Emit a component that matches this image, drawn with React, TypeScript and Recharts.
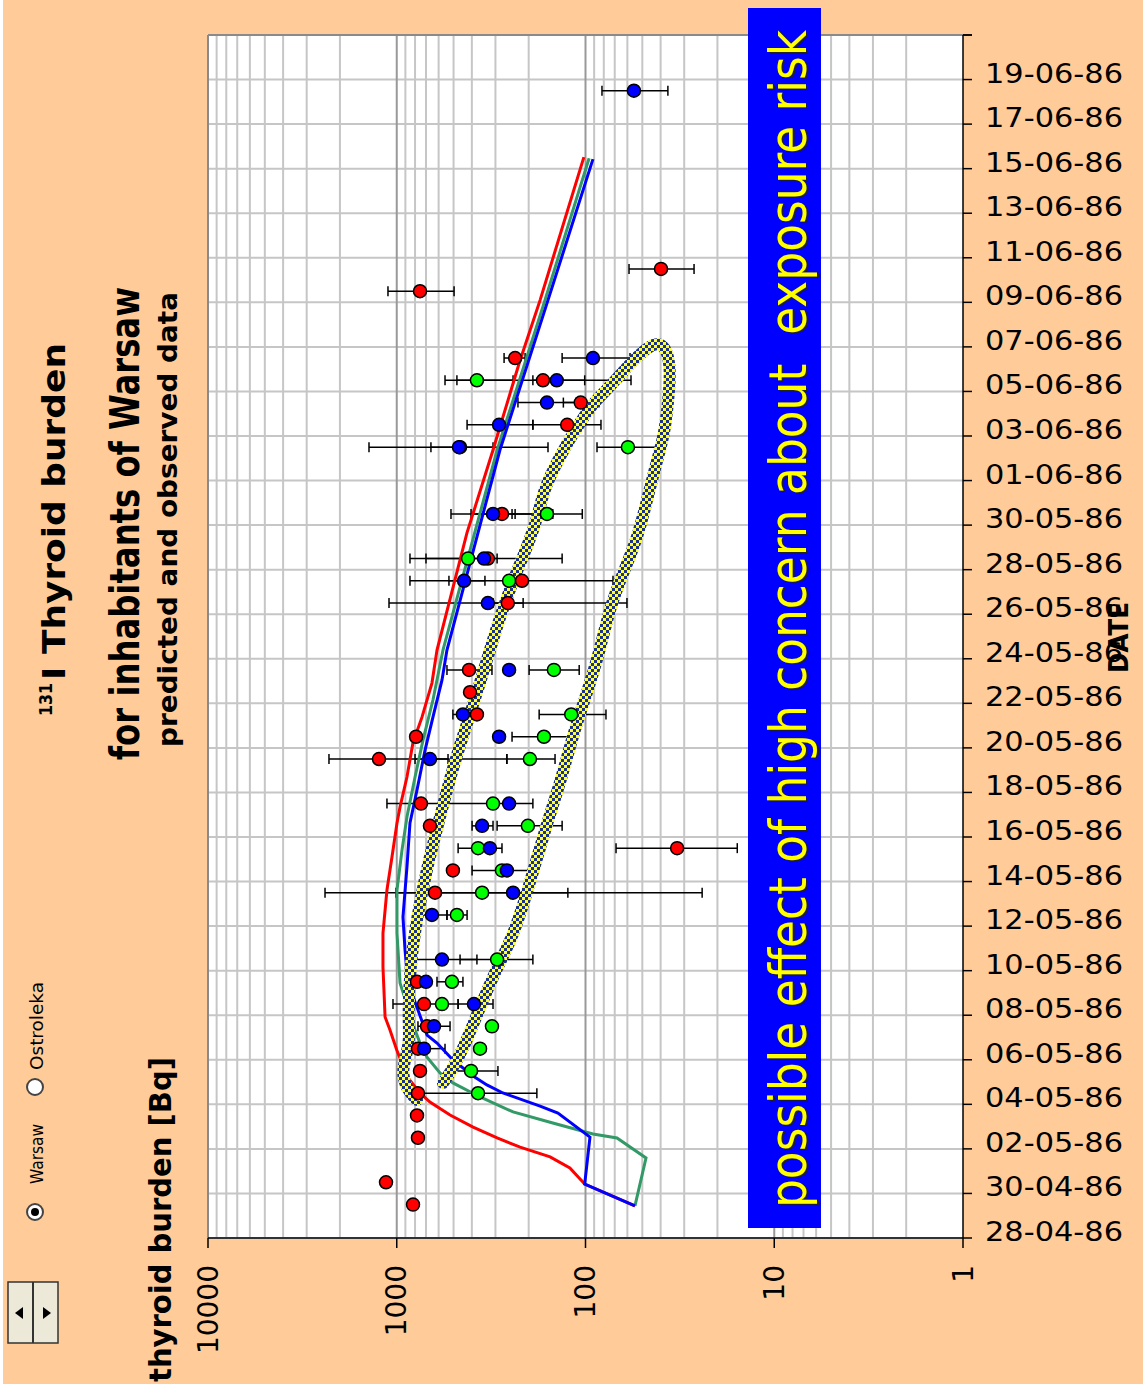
import React from "react";
import { CartesianGrid, ErrorBar, ReferenceLine, Scatter, ScatterChart, XAxis, YAxis } from "recharts";

const W = 1143;
const H = 1388;
const PEACH = "#FFCC99";
const FONT = "DejaVu Sans";

// observations (Bq), measured at midday; low/high = ends of the error bar
const redDates = ["29-04-86", "30-04-86", "02-05-86", "03-05-86", "04-05-86", "05-05-86", "06-05-86", "07-05-86", "08-05-86", "09-05-86", "13-05-86", "14-05-86", "15-05-86", "16-05-86", "17-05-86", "19-05-86", "20-05-86", "21-05-86", "22-05-86", "23-05-86", "26-05-86", "27-05-86", "28-05-86", "30-05-86", "02-06-86", "03-06-86", "04-06-86", "05-06-86", "06-06-86", "09-06-86", "10-06-86"];
const redValues = [820, 1140, 772, 781, 772, 753, 772, 691, 717, 781, 627, 504, 32.7, 667, 744, 1242, 790, 376, 409, 414, 258, 217, 329, 277, 462, 125, 106, 168, 236, 753, 39.8];
const redLow = [null, null, null, null, null, null, null, null, 473, null, null, null, 15.7, null, 190, 535, null, null, null, 313, 214, null, null, 149, 309, 82.8, 84.8, 57.4, 209, 497, 26.6];
const redHigh = [null, null, null, null, null, null, null, null, 1047, null, null, null, 68.9, null, 1127, 2286, null, null, null, 542, 309, null, null, 516, 659, 190, 131, 480, 270, 1113, 58.8];

const greenDates = ["04-05-86", "05-05-86", "06-05-86", "07-05-86", "08-05-86", "09-05-86", "10-05-86", "12-05-86", "13-05-86", "14-05-86", "15-05-86", "16-05-86", "17-05-86", "19-05-86", "20-05-86", "21-05-86", "23-05-86", "27-05-86", "28-05-86", "30-05-86", "02-06-86", "05-06-86"];
const greenValues = [371, 404, 362, 313, 576, 510, 294, 480, 353, 277, 371, 202, 309, 197, 166, 119, 147, 254, 419, 160, 59.6, 376];
const greenLow = [181, 291, null, null, null, 446, 190, 424, 124, 197, 277, 133, null, 145, 118, 77.9, 108, 71.5, 294, 104, 41.3, 242];
const greenHigh = [772, 535, null, null, null, 612, 462, 542, 1009, 399, 473, 294, null, 261, 245, 176, 199, 851, 700, 245, 86.9, 555];

const blueDates = ["06-05-86", "07-05-86", "08-05-86", "09-05-86", "10-05-86", "12-05-86", "13-05-86", "14-05-86", "15-05-86", "16-05-86", "17-05-86", "19-05-86", "20-05-86", "21-05-86", "23-05-86", "26-05-86", "27-05-86", "28-05-86", "30-05-86", "02-06-86", "03-06-86", "04-06-86", "05-06-86", "06-06-86", "18-06-86"];
const blueValues = [717, 635, 390, 700, 576, 651, 242, 261, 321, 353, 254, 667, 287, 446, 254, 329, 440, 345, 309, 468, 287, 160, 142, 91.3, 55.4];
const blueLow = [555, 522, 309, null, 376, 542, 24.1, null, null, 309, null, 261, null, 385, null, 60.3, 341, 133, 236, 158, 190, 112, 101, 58.1, 36.6];
const blueHigh = [781, 772, 473, null, 893, 811, 2399, null, null, 399, null, 800, null, 504, null, 1099, 529, 851, 404, 1403, 424, 228, 190, 133, 81.8];

// predicted curves: days since 28-04-86, Bq
const redCurveDays = [1.44, 2.42, 3.14, 3.64, 4.08, 4.49, 4.98, 5.52, 6.1, 6.51, 7.18, 7.85, 8.44, 9.34, 9.92, 12.16, 13.69, 15.62, 17.1, 18.63, 19.34, 20.69, 22.22, 23.38, 24.91, 26.39, 31.64, 35.37, 39.3, 42.1, 48.52];
const redCurveValues = [54.7, 101, 121, 154, 222, 294, 394, 522, 667, 753, 871, 938, 1000, 1086, 1153, 1183, 1183, 1127, 1060, 997, 961, 883, 821, 735, 651, 612, 425, 309, 224, 174, 102];
const greenCurveDays = [1.44, 3.59, 4.49, 4.67, 5.16, 5.66, 6.33, 6.96, 7.41, 8.12, 8.75, 9.34, 11.45, 13.69, 15.62, 17.41, 18.9, 20.69, 22.35, 24.15, 26.39, 35.37, 42.1, 48.47];
const greenCurveValues = [54.7, 47.8, 68.1, 91.3, 149, 242, 362, 504, 590, 691, 753, 800, 961, 997, 997, 938, 883, 800, 726, 643, 569, 294, 164, 95.7];
const blueCurveDays = [1.44, 2.42, 4.53, 5.61, 5.92, 6.51, 6.87, 7.27, 7.99, 8.75, 9.11, 10.23, 11.45, 12.93, 14.41, 16.65, 18.63, 20.11, 21.9, 23.38, 25.04, 26.39, 35.37, 42.1, 48.43];
const blueCurveValues = [54.7, 101, 94.7, 140, 174, 274, 333, 394, 504, 612, 691, 772, 871, 904, 927, 883, 851, 781, 708, 643, 576, 542, 284, 158, 91.3];

// hand-drawn "high concern" loop
const loopDays = [6.19, 6.64, 7.41, 7.99, 8.89, 9.92, 12.16, 14.41, 16.65, 18.9, 21.14, 23.11, 24.91, 26.39, 27.87, 29.53, 31.01, 32.23, 33.44, 34.47, 35.68, 36.58, 37.48, 38.2, 39.27, 40.08, 40.17, 39.86, 39.09, 38.38, 36.13, 34.92, 33.12, 31.33, 29.85, 28.32, 26.39, 24.46, 22.67, 20.42, 18.63, 15.93, 13.51, 12.16, 10.37, 8.44, 7.41, 6.96];
const loopValues = [781, 883, 938, 904, 851, 872, 851, 781, 691, 590, 504, 424, 362, 321, 284, 242, 204, 181, 168, 149, 125, 107, 91.3, 74.2, 58.1, 45.5, 40.3, 37, 35.7, 35.7, 37.9, 41.8, 47.2, 53.4, 63.3, 74.2, 83.8, 98.2, 116, 136, 160, 197, 242, 294, 362, 446, 522, 569];

const valueTicks = [1, 10, 100, 1000, 10000];
const dayTicks = Array.from({ length: 28 }, (_, i) => i * 2);
const minorGrid = [1, 10, 100, 1000].flatMap((dec) => [2, 3, 4, 5, 6, 7, 8, 9].map((k) => k * dec));

const START = Date.UTC(1986, 3, 28);
const DAY = 86400000;
const pad = (n: number) => String(n).padStart(2, "0");

function dayOf(label: string) {
  const [dd, mm, yy] = label.split("-").map(Number);
  return (Date.UTC(1900 + yy, mm - 1, dd) - START) / DAY + 0.5;
}

function dateLabel(d: number) {
  const t = new Date(START + d * DAY);
  return `${pad(t.getUTCDate())}-${pad(t.getUTCMonth() + 1)}-${pad(t.getUTCFullYear() % 100)}`;
}

function toPoints(dates: string[], values: number[], low: (number | null)[], high: (number | null)[]) {
  return dates.map((t, i) => {
    const lo = low[i];
    const hi = high[i];
    return {
      d: dayOf(t),
      v: values[i],
      err: lo == null || hi == null ? undefined : [values[i] - lo, hi - values[i]],
    };
  });
}

const toCurve = (days: number[], values: number[]) => days.map((d, i) => ({ d, v: values[i] }));

const redPoints = toPoints(redDates, redValues, redLow, redHigh);
const greenPoints = toPoints(greenDates, greenValues, greenLow, greenHigh);
const bluePoints = toPoints(blueDates, blueValues, blueLow, blueHigh);

const noShape = () => <g />;
const dot = (fill: string) => (p: any) => (
  <circle cx={p.cx} cy={p.cy} r={6.5} fill={fill} stroke="#000" strokeWidth={1.5} />
);

function ValueTick({ x, y, payload }: any) {
  const ty = y + 15;
  return (
    <text x={x} y={ty} transform={`rotate(-90, ${x}, ${ty})`} textAnchor="end" dominantBaseline="central" fontFamily={FONT} fontSize={28} fill="#000">
      {payload.value}
    </text>
  );
}

function DateTick({ x, y, payload }: any) {
  if (payload.value >= 54) return <g />;
  return (
    <text x={x} y={y - 6} dominantBaseline="central" fontFamily={FONT} fontSize={26} textLength={138} lengthAdjust="spacingAndGlyphs" fill="#000">
      {dateLabel(payload.value)}
    </text>
  );
}

// rotated (bottom-to-top) text for the overlay; sy stretches the glyph height
function VText({ x, y, size, len, bold, fill = "#000", sy = 1, children }: any) {
  return (
    <text
      x={0}
      y={0}
      transform={`translate(${x}, ${y}) rotate(-90) scale(1, ${sy})`}
      fontFamily={FONT}
      fontWeight={bold ? "bold" : "normal"}
      fontSize={size}
      fill={fill}
      textLength={len}
      lengthAdjust="spacingAndGlyphs"
      style={{ whiteSpace: "pre" }}
    >
      {children}
    </text>
  );
}

const boxText = "possible effect of high concern about  exposure risk";

export default function App() {
  return (
    <div style={{ position: "absolute", left: 0, top: 0, width: W, height: H, background: "#fff", overflow: "hidden" }}>
      <div style={{ position: "absolute", left: 3, top: 0, width: W - 3, height: H - 4, background: PEACH }} />
      <div style={{ position: "absolute", left: 0, top: 0 }}>
        <ScatterChart width={W} height={H} margin={{ top: 35, right: 10, bottom: 10, left: 208 }}>
          <CartesianGrid vertical={false} stroke="#C6C6C6" strokeWidth={2} fill="#fff" />
          <XAxis
            type="number"
            dataKey="v"
            scale="log"
            domain={[1, 10000]}
            allowDataOverflow
            reversed
            ticks={valueTicks}
            interval={0}
            height={140}
            tickSize={10}
            tick={<ValueTick />}
            axisLine={{ stroke: "#000", strokeWidth: 1.5 }}
            tickLine={{ stroke: "#000", strokeWidth: 1.5 }}
          />
          <YAxis
            type="number"
            dataKey="d"
            orientation="right"
            domain={[0, 54]}
            allowDataOverflow
            ticks={[...dayTicks, 54]}
            interval={0}
            width={170}
            tickSize={9}
            tickMargin={13}
            tick={<DateTick />}
            axisLine={{ stroke: "#000", strokeWidth: 1.5 }}
            tickLine={{ stroke: "#000", strokeWidth: 1.5 }}
          />
          {minorGrid.map((v) => (
            <ReferenceLine key={v} x={v} stroke="#C6C6C6" strokeWidth={2} zIndex={-50} />
          ))}
          {[10, 100, 1000].map((v) => (
            <ReferenceLine key={`m${v}`} x={v} stroke="#999999" strokeWidth={2} zIndex={-50} />
          ))}
          <ReferenceLine x={10000} stroke="#8A8A8A" strokeWidth={2} zIndex={-50} />
          <ReferenceLine y={54} stroke="#8A8A8A" strokeWidth={2} zIndex={-50} />

          <Scatter data={toCurve(redCurveDays, redCurveValues)} line={{ stroke: "#FF0000", strokeWidth: 3 }} lineType="joint" shape={noShape} fill="#FF0000" isAnimationActive={false} />
          <Scatter data={toCurve(greenCurveDays, greenCurveValues)} line={{ stroke: "#339966", strokeWidth: 3 }} lineType="joint" shape={noShape} fill="#339966" isAnimationActive={false} />
          <Scatter data={toCurve(blueCurveDays, blueCurveValues)} line={{ stroke: "#0000FF", strokeWidth: 3 }} lineType="joint" shape={noShape} fill="#0000FF" isAnimationActive={false} />
          <Scatter
            data={toCurve(loopDays, loopValues)}
            line={{ stroke: "url(#checker)", strokeWidth: 12, strokeLinecap: "round", strokeLinejoin: "round" }}
            lineType="joint"
            lineJointType="basis"
            shape={noShape}
            fill="#FFFF00"
            isAnimationActive={false}
          />

          <Scatter data={greenPoints} shape={dot("#00FF00")} fill="#00FF00" isAnimationActive={false}>
            <ErrorBar dataKey="err" direction="x" width={5} stroke="#000" strokeWidth={1.5} />
          </Scatter>
          <Scatter data={redPoints} shape={dot("#FF0000")} fill="#FF0000" isAnimationActive={false}>
            <ErrorBar dataKey="err" direction="x" width={5} stroke="#000" strokeWidth={1.5} />
          </Scatter>
          <Scatter data={bluePoints} shape={dot("#0000FF")} fill="#0000FF" isAnimationActive={false}>
            <ErrorBar dataKey="err" direction="x" width={5} stroke="#000" strokeWidth={1.5} />
          </Scatter>
        </ScatterChart>
      </div>

      <svg width={W} height={H} style={{ position: "absolute", left: 0, top: 0, pointerEvents: "none" }}>
        <defs>
          <pattern id="checker" width="6" height="6" patternUnits="userSpaceOnUse">
            <rect width="6" height="6" fill="#FFFF33" />
            <rect width="3" height="3" fill="#1A3388" />
            <rect x="3" y="3" width="3" height="3" fill="#1A3388" />
          </pattern>
        </defs>

        {/* spin button */}
        <rect x={8} y={1282} width={50} height={61} fill="#ECE9D8" stroke="#333" strokeWidth={1.5} />
        <line x1={33} y1={1282} x2={33} y2={1343} stroke="#333" strokeWidth={2} />
        <polygon points="15,1313 23,1307 23,1319" fill="#000" />
        <polygon points="51,1313 43,1307 43,1319" fill="#000" />

        {/* radio buttons */}
        <circle cx={35} cy={1212} r={8} fill="#fff" stroke="#444" strokeWidth={2} />
        <circle cx={35} cy={1212} r={4} fill="#000" />
        <VText x={43} y={1184} size={15} len={60} sy={1.15}>Warsaw</VText>
        <circle cx={35} cy={1087} r={8} fill="#fff" stroke="#444" strokeWidth={2} />
        <VText x={43} y={1070} size={15} len={88} sy={1.15}>Ostroleka</VText>

        {/* titles */}
        <VText x={52} y={716} size={18} len={33} bold>131</VText>
        <VText x={65} y={680} size={32} len={337} bold>I Thyroid burden</VText>
        <VText x={139} y={760} size={40} len={473} bold>for inhabitants of Warsaw</VText>
        <VText x={177} y={747} size={26} len={455} bold>predicted and observed data</VText>
        <VText x={171} y={1382} size={30} len={325} bold>thyroid burden [Bq]</VText>

        {/* message box */}
        <rect x={748} y={8} width={73} height={1220} fill="#0000FF" />
        <VText x={808} y={1209} size={45} len={1178} sy={1.15} fill="#222">{boxText}</VText>
        <VText x={806} y={1208} size={45} len={1178} sy={1.15} fill="#FFFF00">{boxText}</VText>

        <VText x={1128} y={673} size={26} len={71} bold>DATE</VText>
      </svg>
    </div>
  );
}
